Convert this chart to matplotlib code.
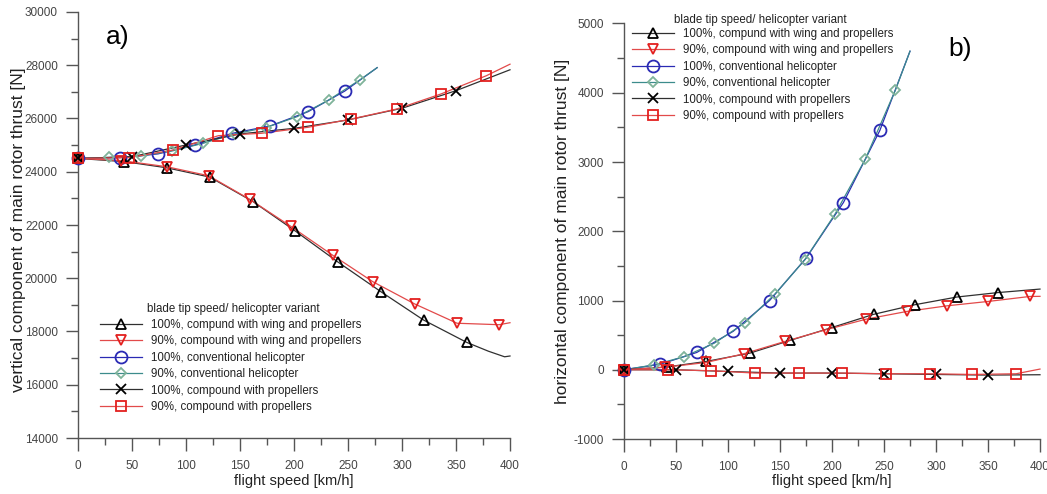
import matplotlib
matplotlib.use("Agg")
import matplotlib.pyplot as plt
from matplotlib.ticker import MultipleLocator
from matplotlib.lines import Line2D

plt.rcParams['font.family'] = ['Liberation Sans', 'DejaVu Sans']
plt.rcParams['axes.unicode_minus'] = False

# ---------------- data: panel a) vertical component [N] ----------------
a_tri100_x = [0, 43, 82, 122, 162, 201, 241, 281, 320, 360]
a_tri100_y = [24500, 24380, 24150, 23800, 22880, 21780, 20600, 19480, 18430, 17590]
a_tri100_end_x = [380, 395, 400]
a_tri100_end_y = [17260, 17050, 17080]

a_tri90_x = [0, 40, 82, 121, 159, 197, 236, 273, 312, 351, 390]
a_tri90_y = [24500, 24420, 24190, 23850, 22965, 21950, 20860, 19870, 19030, 18310, 18255]
a_tri90_end_x = [400]
a_tri90_end_y = [18330]

a_circ_x = [0, 39, 74, 108, 143, 178, 213, 247]
a_circ_y = [24500, 24530, 24670, 25005, 25445, 25720, 26255, 27030]
a_circ_end_x = [277]
a_circ_end_y = [27910]

a_dia_x = [0, 29, 58, 87, 116, 145, 174, 203, 232, 261]
a_dia_y = [24500, 24540, 24590, 24780, 25070, 25420, 25660, 26070, 26690, 27450]
a_dia_end_x = [277]
a_dia_end_y = [27910]

a_x100_x = [0, 50, 100, 150, 200, 250, 300, 350]
a_x100_y = [24500, 24565, 25005, 25420, 25630, 25945, 26385, 27045]
a_x100_end_x = [400]
a_x100_end_y = [27830]

a_sq90_x = [0, 47, 88, 130, 170, 213, 253, 295, 336, 378]
a_sq90_y = [24500, 24530, 24815, 25355, 25445, 25670, 25980, 26355, 26920, 27605]
a_sq90_end_x = [400]
a_sq90_end_y = [28040]

# ---------------- data: panel b) horizontal component [N] ----------------
b_tri100_x = [0, 41, 79, 121, 160, 200, 240, 280, 320, 360]
b_tri100_y = [0, 40, 120, 240, 425, 610, 800, 940, 1050, 1115]
b_tri100_end_x = [400]
b_tri100_end_y = [1165]

b_tri90_x = [0, 39, 79, 115, 155, 194, 233, 272, 311, 350, 390]
b_tri90_y = [0, 35, 105, 230, 410, 577, 731, 842, 924, 986, 1058]
b_tri90_end_x = [400]
b_tri90_end_y = [1060]

b_circ_x = [0, 35, 70, 105, 140, 175, 211, 246]
b_circ_y = [0, 80, 250, 555, 1000, 1610, 2415, 3455]
b_circ_end_x = [275]
b_circ_end_y = [4600]

b_dia_x = [0, 29, 58, 87, 116, 145, 174, 203, 232, 261]
b_dia_y = [0, 70, 190, 385, 675, 1090, 1590, 2250, 3040, 4040]
b_dia_end_x = [275]
b_dia_end_y = [4600]

b_x100_x = [0, 50, 100, 150, 200, 250, 300, 350]
b_x100_y = [0, 0, -25, -48, -48, -58, -68, -77]
b_x100_end_x = [400]
b_x100_end_y = [-72]

b_sq90_x = [0, 42, 84, 126, 168, 210, 252, 294, 335, 377]
b_sq90_y = [0, 0, -14, -48, -48, -48, -58, -58, -68, -58]
b_sq90_end_x = [400]
b_sq90_end_y = [10]

legend_title = "blade tip speed/ helicopter variant"
labels = ["100%, compund with wing and propellers",
          "90%, compound with wing and propellers",
          "100%, conventional helicopter",
          "90%, conventional helicopter",
          "100%, compound with propellers",
          "90%, compound with propellers"]

x_label = "flight speed [km/h]"
ya_label = "vertical component of main rotor thrust [N]"
yb_label = "horizontal component of main rotor thrust [N]"

# ---------------- styles ----------------
BLACK_LINE = '#303030'
RED = '#e3201f'
RED_LINE = '#e24a4a'
BLUE = '#2a2ab4'
GREEN = '#7fb39a'
TEAL_LINE = '#3c8c8c'

styles = [
    dict(marker='^', mec='black', line=BLACK_LINE, ms=7.2),
    dict(marker='v', mec=RED, line=RED_LINE, ms=7.6),
    dict(marker='o', mec=BLUE, line=BLUE, ms=8.6),
    dict(marker='D', mec=GREEN, line=TEAL_LINE, ms=5.6),
    dict(marker='x', mec='black', line=BLACK_LINE, ms=6.8),
    dict(marker='s', mec=RED, line=RED_LINE, ms=6.6),
]

AX_COLOR = '#555555'
TXT = '#222222'

fig = plt.figure(figsize=(10.47, 4.94), dpi=100)
W, H = 1047, 494


def fx(px):
    return px / W


def fy(py):
    return 1 - py / H


ax_a = fig.add_axes([fx(78), fy(438), fx(510) - fx(78), fy(12) - fy(438)])
ax_b = fig.add_axes([fx(624), fy(439), fx(1040) - fx(624), fy(23.5) - fy(439)])

series_a = [
    (a_tri100_x, a_tri100_y, a_tri100_end_x, a_tri100_end_y),
    (a_tri90_x, a_tri90_y, a_tri90_end_x, a_tri90_end_y),
    (a_circ_x, a_circ_y, a_circ_end_x, a_circ_end_y),
    (a_dia_x, a_dia_y, a_dia_end_x, a_dia_end_y),
    (a_x100_x, a_x100_y, a_x100_end_x, a_x100_end_y),
    (a_sq90_x, a_sq90_y, a_sq90_end_x, a_sq90_end_y),
]
series_b = [
    (b_tri100_x, b_tri100_y, b_tri100_end_x, b_tri100_end_y),
    (b_tri90_x, b_tri90_y, b_tri90_end_x, b_tri90_end_y),
    (b_circ_x, b_circ_y, b_circ_end_x, b_circ_end_y),
    (b_dia_x, b_dia_y, b_dia_end_x, b_dia_end_y),
    (b_x100_x, b_x100_y, b_x100_end_x, b_x100_end_y),
    (b_sq90_x, b_sq90_y, b_sq90_end_x, b_sq90_end_y),
]


def draw(ax, series):
    order = [2, 3, 0, 1, 4, 5]
    hmap = {}
    for i in order:
        xs, ys, ex, ey = series[i]
        st = styles[i]
        ax.plot(list(xs) + list(ex), list(ys) + list(ey), color=st['line'],
                lw=0.9, zorder=2, clip_on=False)
        ax.plot(xs, ys, linestyle='none', marker=st['marker'], ms=st['ms'],
                mfc='none', mec=st['mec'], mew=1.3, zorder=3, clip_on=False)
        hmap[i] = Line2D([], [], color=st['line'], lw=0.9, marker=st['marker'],
                         ms=st['ms'], mfc='none', mec=st['mec'], mew=1.3)
    return [hmap[i] for i in range(6)]


def style_axes(ax, ymaj, ymin):
    for s in ['top', 'right']:
        ax.spines[s].set_visible(False)
    for s in ['left', 'bottom']:
        ax.spines[s].set_color(AX_COLOR)
        ax.spines[s].set_linewidth(1.0)
    ax.xaxis.set_major_locator(MultipleLocator(50))
    ax.xaxis.set_minor_locator(MultipleLocator(25))
    ax.yaxis.set_major_locator(MultipleLocator(ymaj))
    ax.yaxis.set_minor_locator(MultipleLocator(ymin))
    ax.tick_params(axis='both', which='both', color=AX_COLOR, width=1.0,
                   labelcolor='#444444', labelsize=8.5, direction='out')
    ax.tick_params(axis='x', which='major', length=9.5, pad=6)
    ax.tick_params(axis='x', which='minor', length=5)
    ax.tick_params(axis='y', which='major', length=8.5, pad=6)
    ax.tick_params(axis='y', which='minor', length=5)
    ax.set_xlim(0, 400)
    ax.set_xlabel(x_label, fontsize=10.5, color=TXT)


# panel a
h_a = draw(ax_a, series_a)
style_axes(ax_a, 2000, 1000)
ax_a.set_ylim(14000, 30000)
ax_a.set_ylabel(ya_label, fontsize=12.5, color=TXT)
ax_a.yaxis.set_label_coords(-0.12, 0.49)
ax_a.xaxis.set_label_coords(0.5, -0.085)
ax_a.text(fx(118), fy(37), "a)", transform=fig.transFigure, fontsize=19,
          ha='center', va='center', color='black')

# panel b
h_b = draw(ax_b, series_b)
style_axes(ax_b, 1000, 500)
ax_b.set_ylim(-1000, 5000)
ax_b.set_ylabel(yb_label, fontsize=12.5, color=TXT)
ax_b.yaxis.set_label_coords(-0.13, 0.5)
ax_b.xaxis.set_label_coords(0.5, -0.085)
ax_b.text(fx(960), fy(49), "b)", transform=fig.transFigure, fontsize=19,
          ha='center', va='center', color='black')

# legends
for ax, h, lx, ly, tx, ty in [(ax_a, h_a, 100, 319, 147, 309),
                              (ax_b, h_b, 632, 28, 674, 20)]:
    leg = ax.legend(h, labels, loc='upper left',
                    bbox_to_anchor=(fx(lx), fy(ly)), bbox_transform=fig.transFigure,
                    frameon=False, fontsize=8.3, borderpad=0, borderaxespad=0,
                    handlelength=3.6, handletextpad=0.8, labelspacing=0.38,
                    labelcolor=TXT)
    fig.text(fx(tx), fy(ty), legend_title, fontsize=8.3, ha='left', va='center',
             color=TXT)

fig.savefig('out.png', dpi=100)
